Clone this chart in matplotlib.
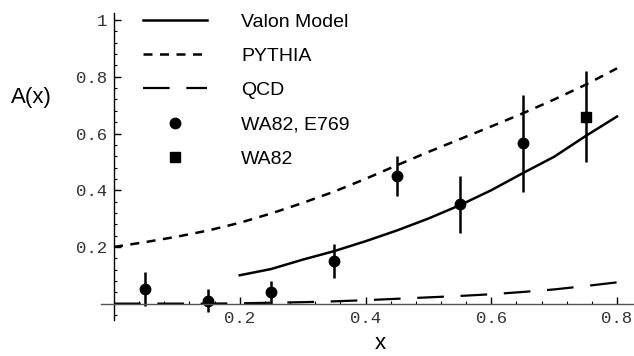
import numpy as np
import matplotlib
matplotlib.use('Agg')
import matplotlib.pyplot as plt
from matplotlib.lines import Line2D
from matplotlib.ticker import MultipleLocator, FixedLocator

# curves
valon_x = [0.2, 0.25, 0.3, 0.35, 0.4, 0.45, 0.5, 0.55, 0.6, 0.65, 0.7, 0.75, 0.8]
valon_y = [0.10, 0.122, 0.155, 0.185, 0.22, 0.258, 0.30, 0.347, 0.40, 0.46, 0.518, 0.591, 0.66]

pythia_x = [0, 0.05, 0.1, 0.15, 0.2, 0.25, 0.3, 0.35, 0.4, 0.45, 0.5, 0.55, 0.6, 0.65, 0.7, 0.75, 0.8]
pythia_y = [0.20, 0.217, 0.236, 0.258, 0.285, 0.318, 0.355, 0.395, 0.44, 0.488, 0.535, 0.58,
            0.625, 0.671, 0.72, 0.772, 0.83]

qcd_x = [0, 0.05, 0.1, 0.15, 0.2, 0.25, 0.3, 0.35, 0.4, 0.45, 0.5, 0.55, 0.6, 0.65, 0.7, 0.75, 0.8]
qcd_y = [0, 0, 0, 0, 0.001, 0.003, 0.005, 0.008, 0.012, 0.017, 0.022, 0.027, 0.033, 0.041,
         0.05, 0.062, 0.075]

# data points
e769_x = [0.05, 0.15, 0.25, 0.35, 0.45, 0.55, 0.65]
e769_y = [0.05, 0.01, 0.04, 0.15, 0.45, 0.35, 0.565]
e769_err = [0.06, 0.04, 0.04, 0.06, 0.07, 0.10, 0.17]

wa82_x = [0.75]
wa82_y = [0.66]
wa82_err = [0.16]

fig = plt.figure(figsize=(6.34, 3.56), dpi=100)
ax = fig.add_axes([0.160, 0.101, 0.838, 0.8624])

ax.plot(valon_x, valon_y, color='black', lw=1.8)
ax.plot(pythia_x, pythia_y, color='black', lw=1.8, dashes=(3.6, 3.0))
ax.plot(qcd_x, qcd_y, color='black', lw=1.6, dashes=(12, 7.5))
ax.errorbar(e769_x, e769_y, yerr=e769_err, fmt='o', color='black', ms=7.5,
            elinewidth=1.8, capsize=0)
ax.errorbar(wa82_x, wa82_y, yerr=wa82_err, fmt='s', color='black', ms=6.5,
            elinewidth=1.8, capsize=0)

ax.set_xlim(-0.02, 0.825)
ax.set_ylim(-0.058, 1.025)

for s in ['top', 'right']:
    ax.spines[s].set_visible(False)
ax.spines['left'].set_position(('data', 0))
ax.spines['bottom'].set_position(('data', 0))
ax.spines['left'].set_linewidth(1.0)
ax.spines['bottom'].set_linewidth(1.0)
ax.spines['bottom'].set_color('#555555')

ax.xaxis.set_major_locator(FixedLocator([0.2, 0.4, 0.6, 0.8]))
ax.xaxis.set_minor_locator(MultipleLocator(0.04))
ax.yaxis.set_major_locator(FixedLocator([0.2, 0.4, 0.6, 0.8, 1.0]))
ax.yaxis.set_minor_locator(MultipleLocator(0.04))
ax.set_xticklabels(['0.2', '0.4', '0.6', '0.8'])
ax.set_yticklabels(['0.2', '0.4', '0.6', '0.8', '1'])
ax.tick_params(which='major', direction='in', length=5, width=1, pad=5,
               labelsize=12.5, labelcolor='#333333')
ax.tick_params(which='minor', direction='in', length=2.5, width=0.8)
for lab in ax.get_xticklabels() + ax.get_yticklabels():
    lab.set_fontfamily('Liberation Mono')

ax.set_ylabel('A(x)', rotation=0, fontsize=16, family='Liberation Sans')
ax.yaxis.set_label_coords(-0.1316, 0.726)
ax.yaxis.label.set_va('center')
ax.yaxis.label.set_ha('center')
ax.set_xlabel('x', fontsize=16, family='Liberation Sans')
ax.xaxis.set_label_coords(0.524, -0.078)
ax.xaxis.label.set_va('center')

# legend handles (markers only, no error bars)
handles = [
    Line2D([], [], color='black', lw=1.8),
    Line2D([], [], color='black', lw=1.8, dashes=(3.6, 3.0)),
    Line2D([], [], color='black', lw=1.6, dashes=(12, 7.5)),
    Line2D([], [], color='black', marker='o', ms=7.5, ls='none'),
    Line2D([], [], color='black', marker='s', ms=6.5, ls='none'),
]
labels = ['Valon Model', 'PYTHIA', 'QCD', 'WA82, E769', 'WA82']
ax.legend(handles, labels, loc='upper left', bbox_to_anchor=(143 / 634, 1 - 13 / 356),
          bbox_transform=fig.transFigure, frameon=False, numpoints=1,
          handlelength=3.3, handletextpad=1.75, labelspacing=0.86,
          borderpad=0, borderaxespad=0,
          prop={'family': 'Liberation Sans', 'size': 14})

fig.savefig('out.png', dpi=100)
